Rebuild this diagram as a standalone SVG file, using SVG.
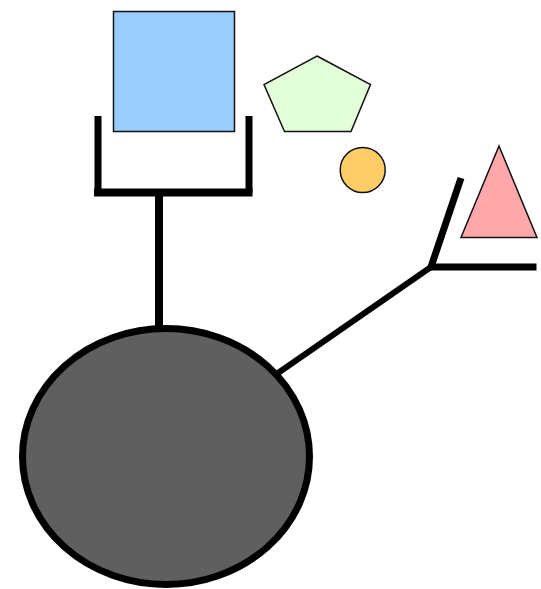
<svg xmlns="http://www.w3.org/2000/svg" width="541" height="589" viewBox="0 0 541 589">
<style>
.shape{stroke:#111;stroke-width:1.5}
.conn{stroke:#000;fill:none;stroke-linecap:butt;stroke-linejoin:miter}
</style>
<rect width="541" height="589" fill="#fff"/>
<g id="connectors">
<path class="conn" d="M98,116 V193 M249,116 V193" stroke-width="7"/>
<path class="conn" d="M94,192.5 H252.5" stroke-width="8"/>
<path class="conn" d="M159,193 V328" stroke-width="8"/>
<path class="conn" d="M278,373 L431,267" stroke-width="6"/>
<path class="conn" d="M461,178 L431,267 H536.5" stroke-width="7"/>
</g>
<g id="square"><rect class="shape" x="113.5" y="11.5" width="121" height="120" fill="#99ccff"/></g>
<g id="pentagon"><polygon class="shape" points="317,56 370.5,84.5 351,131.5 284.5,131.5 264,84.5" fill="#e2ffd9"/></g>
<g id="circle"><circle class="shape" cx="362.7" cy="170" r="22.5" fill="#ffcc66"/></g>
<g id="triangle"><polygon class="shape" points="499,146 537,237.5 461,237.5" fill="#ffa8ac"/></g>
<g id="ellipse"><ellipse cx="166" cy="456.5" rx="143.5" ry="128" fill="#5f5f5f" stroke="#000" stroke-width="7"/></g>
</svg>
